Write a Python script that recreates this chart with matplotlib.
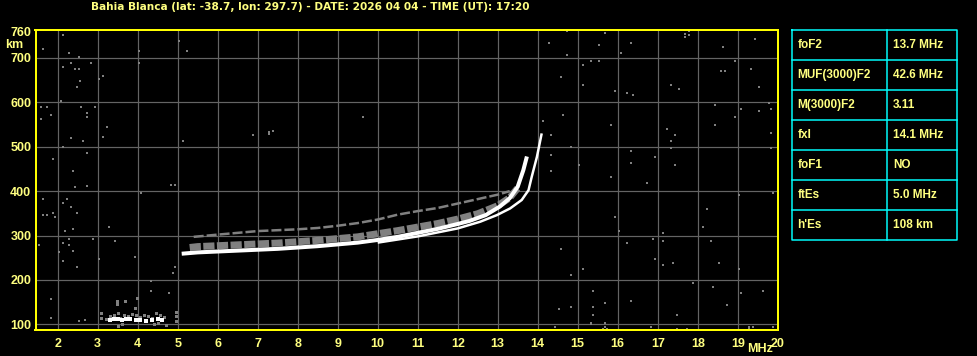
import matplotlib
matplotlib.use('Agg')
import matplotlib.pyplot as plt

# ---------------- data ----------------
title = "Bahia Blanca (lat: -38.7, lon: 297.7) - DATE: 2026 04 04 - TIME (UT): 17:20"

x_ticks = [2, 3, 4, 5, 6, 7, 8, 9, 10, 11, 12, 13, 14, 15, 16, 17, 18, 19, 20]
y_ticks = [100, 200, 300, 400, 500, 600, 700, 760]
x_grid = [2, 3, 4, 5, 6, 7, 8, 9, 10, 11, 12, 13, 14, 15, 16, 17, 18, 19]
y_grid = [100, 200, 300, 400, 500, 600, 700]

param_names = ["foF2", "MUF(3000)F2", "M(3000)F2", "fxl", "foF1", "ftEs", "h'Es"]
param_values = ["13.7 MHz", "42.6 MHz", "3.11", "14.1 MHz", "NO", "5.0 MHz", "108 km"]

# ordinary F trace (white)
o_freq = [5.1, 5.5, 6.0, 6.5, 7.0, 7.5, 8.0, 8.5, 9.0, 9.5, 10.0, 10.5, 11.0, 11.5,
          12.0, 12.3, 12.7, 13.05, 13.3, 13.5, 13.64, 13.73]
o_height = [259, 262, 264, 266, 268, 270, 273, 276, 280, 284, 290, 297, 306, 315,
            326, 333, 346, 365, 384, 410, 447, 478]
# extraordinary F trace (white)
x_freq = [10.0, 11.0, 12.0, 12.56, 12.98, 13.31, 13.6, 13.77, 13.85, 13.98, 14.1]
x_height = [284, 298, 316, 331, 346, 361, 380, 402, 432, 477, 530]
# grey echo band just above the main trace
band_freq = [5.3, 5.5, 6.0, 6.5, 7.0, 7.5, 8.0, 8.5, 9.0, 9.5, 10.0, 10.5, 11.0,
             11.5, 12.0, 12.5, 13.0, 13.3, 13.5]
band_height = [273, 275, 277, 279, 281, 283, 286, 289, 293, 297, 304, 311, 319,
               327, 337, 349, 367, 385, 407]
# upper grey echo
up_freq = [5.4, 6.0, 6.5, 7.0, 7.5, 8.0, 8.5, 9.0, 9.5, 10.0, 10.5, 11.0, 11.5,
           12.0, 12.5, 13.0, 13.3]
up_height = [297, 302, 306, 310, 312, 314, 317, 322, 328, 336, 347, 355, 362,
             372, 382, 392, 400]
# sporadic E (white part)
es_freq = [3.3, 3.4, 3.5, 3.6, 3.7, 3.8, 3.95, 4.05, 4.2, 4.35, 4.5, 4.6]
es_height = [109, 111, 112, 109, 111, 112, 109, 110, 108, 109, 112, 110]
# sporadic E (grey part)
es_grey_freq = [3.2, 3.3, 3.4, 3.5, 3.55, 3.65, 3.75, 3.85, 3.95, 4.05, 4.15, 4.25,
                4.35, 4.45, 4.55, 4.65, 3.48, 3.48, 3.68, 3.93, 3.98, 3.08, 3.08,
                3.5, 4.4, 4.7, 4.95, 4.95, 4.95, 3.6, 4.5]
es_grey_height = [112, 118, 120, 125, 115, 122, 118, 124, 120, 116, 122, 118,
                  115, 126, 120, 116, 145, 152, 153, 137, 159, 126, 115,
                  96, 100, 98, 108, 118, 128, 100, 102]
# scattered noise dots
noise_freq = [1.58, 1.73, 1.83, 1.58, 2.58, 2.73, 2.73, 2.93, 3.23, 3.13, 2.33, 2.63,
              5.13, 2.13, 2.73, 1.88, 2.38, 2.43, 2.73, 4.83, 4.93, 4.08, 1.63, 2.23,
              2.13, 2.33, 2.48, 1.63, 1.73, 1.88, 1.93, 3.28, 2.38, 2.18, 2.28, 2.88,
              3.43, 2.13, 2.28, 1.53, 2.03, 2.38, 3.93, 3.03, 2.13, 2.48, 4.93, 4.88,
              4.33, 4.33, 4.78, 1.83, 1.83, 2.53, 2.68,
              1.63, 2.13, 2.28, 2.13, 2.33, 2.43, 2.53, 2.53, 2.83, 2.57, 2.48, 3.03,
              3.13, 2.08, 4.03, 4.03, 5.03, 5.23, 9.63,
              6.88, 7.28, 7.28, 7.38, 14.28, 14.13, 14.33, 14.33, 14.33,
              14.73, 15.68, 14.73, 15.53, 16.33, 16.08, 17.68, 17.68, 17.78, 17.78,
              18.63, 19.43, 15.13, 15.33, 15.53, 14.58, 15.13, 15.93, 16.23, 16.38,
              17.33, 17.53, 18.93, 18.58, 18.68, 19.33, 19.53, 14.63, 15.83, 18.43,
              19.08, 19.53, 19.78, 19.83, 18.93, 18.43, 17.23, 17.43, 17.33, 19.83,
              14.83, 16.33, 16.93, 17.33, 19.83, 15.03, 16.33, 17.43, 15.83, 16.73,
              19.03, 19.88, 18.23, 15.93, 16.03, 18.13, 17.13, 16.88, 16.23, 17.13,
              18.33, 14.58, 16.93, 17.13, 17.38, 18.53, 19.03, 15.13, 14.83,
              15.38, 14.53, 14.83, 15.38, 15.68, 15.38, 15.33, 15.33, 15.68, 15.63,
              15.73, 15.68, 14.43, 16.33, 16.83, 17.48, 17.48, 17.73, 17.88, 18.38,
              18.73, 19.08, 19.63, 19.28, 19.28, 19.38, 19.88]
noise_height = [590, 590, 572, 563, 590, 577, 568, 590, 545, 523, 520, 514,
                514, 500, 486, 473, 446, 410, 412, 414, 414, 396, 383, 383,
                374, 365, 351, 347, 347, 351, 342, 320, 315, 311, 293, 293,
                288, 284, 279, 279, 264, 266, 252, 248, 243, 230, 230, 216,
                198, 176, 171, 158, 114, 108, 110,
                720, 752, 710, 680, 689, 676, 676, 702, 688, 649, 635, 653,
                660, 604, 716, 689, 739, 716, 568,
                527, 529, 533, 536, 734, 559, 527, 482, 446,
                761, 757, 707, 730, 734, 712, 754, 748, 761, 752,
                725, 743, 685, 694, 694, 658, 640, 626, 622, 617,
                640, 631, 694, 671, 671, 676, 635, 572, 550, 595,
                586, 581, 599, 586, 568, 550, 541, 527, 514, 532,
                500, 491, 477, 496, 496, 459, 464, 459, 432, 419,
                392, 396, 360, 342, 311, 320, 306, 293, 283, 288,
                288, 270, 248, 234, 239, 239, 225, 225, 212,
                176, 135, 140, 140, 149, 122, 101, 104, 104, 90,
                90, 95, 95, 153, 95, 122, 90, 90, 194, 185,
                144, 171, 176, 95, 90, 95, 95]

# ---------------- style ----------------
YEL = '#ffff80'
GRID = '#646464'
GREY = '#808080'
CYAN = '#00ffff'
FONT = ['Liberation Sans', 'DejaVu Sans']
PX = 0.72  # points per pixel at 100 dpi

W, H = 978, 356
fig = plt.figure(figsize=(W / 100, H / 100), dpi=100, facecolor='black')


def fx(px):
    return px / W


def fy(py):
    return 1 - py / H


ax = fig.add_axes([fx(35.5), fy(330), fx(777.7) - fx(35.5), fy(29.5) - fy(330)])
ax.set_facecolor('black')
ax.set_xlim(1.445, 20.0)
ax.set_ylim(87.2, 764)

for g in x_grid:
    ax.axvline(g, color=GRID, lw=1.2 * PX, zorder=1)
for g in y_grid:
    ax.axhline(g, color=GRID, lw=1.2 * PX, zorder=1)

# noise
ax.scatter(noise_freq, noise_height, s=(2 * PX) ** 2 * 1.3, marker='s',
           color=GREY, linewidths=0, zorder=2)
# grey echoes
ax.plot(up_freq, up_height, color=GREY, lw=2.5 * PX, ls=(0, (4, 1.2)),
        solid_capstyle='butt', zorder=3)
ax.plot(band_freq, band_height, color=GREY, lw=7 * PX, ls=(0, (1.6, 0.35)),
        solid_capstyle='butt', zorder=3)
ax.scatter(es_grey_freq, es_grey_height, s=(3 * PX) ** 2, marker='s',
           color=GREY, linewidths=0, zorder=3)
# white traces
ax.plot(o_freq, o_height, color='white', lw=4 * PX, solid_capstyle='butt', zorder=4)
ax.plot(x_freq, x_height, color='white', lw=2.5 * PX, solid_capstyle='butt', zorder=4)
ax.scatter(es_freq, es_height, s=(3.5 * PX) ** 2, marker='s',
           color='white', linewidths=0, zorder=4)

# spines / ticks
for s in ax.spines.values():
    s.set_color('yellow')
    s.set_linewidth(2 * PX)
    s.set_zorder(5)

ax.set_xticks(x_ticks)
ax.set_xticklabels([str(v) for v in x_ticks])
ax.set_yticks(y_ticks)
ax.set_yticklabels([str(v) for v in y_ticks])
ax.tick_params(length=0, colors=YEL, labelsize=9)
ax.tick_params(axis='x', pad=6)
ax.tick_params(axis='y', pad=3)
for lab in ax.get_xticklabels() + ax.get_yticklabels():
    lab.set_fontweight('bold')
    lab.set_family(FONT)

fig.text(fx(14), fy(45.5), "km", color=YEL, fontsize=9, fontweight='bold',
         family=FONT, ha='center', va='center')
fig.text(fx(760), fy(348.5), "MHz", color=YEL, fontsize=9, fontweight='bold',
         family=FONT, ha='center', va='center')
fig.text(fx(90.7), fy(6.8), title, color=YEL, fontsize=7.55, fontweight='bold',
         family=['DejaVu Sans'], ha='left', va='center')

# parameter table
tl, tr, tt, tb, tm = 792.3, 957.3, 30.3, 240.3, 887.3
n = len(param_names)
rh = (tb - tt) / n
tax = fig.add_axes([0, 0, 1, 1], facecolor='none')
tax.set_xlim(0, W)
tax.set_ylim(H, 0)
tax.axis('off')
tax.plot([tl, tr, tr, tl, tl], [tt, tt, tb, tb, tt], color=CYAN, lw=1.5 * PX)
tax.plot([tm, tm], [tt, tb], color=CYAN, lw=1.5 * PX)
for i in range(1, n):
    yy = tt + i * rh
    tax.plot([tl, tr], [yy, yy], color=CYAN, lw=1.5 * PX)
for i, (nm, vl) in enumerate(zip(param_names, param_values)):
    yc = tt + (i + 0.5) * rh
    tax.text(tl + 5, yc, nm, color=YEL, fontsize=8.5, fontweight='bold',
             family=FONT, ha='left', va='center')
    tax.text(tm + 5.5, yc, vl, color=YEL, fontsize=8.5, fontweight='bold',
             family=FONT, ha='left', va='center')

fig.savefig('out.png', dpi=100, facecolor='black')
